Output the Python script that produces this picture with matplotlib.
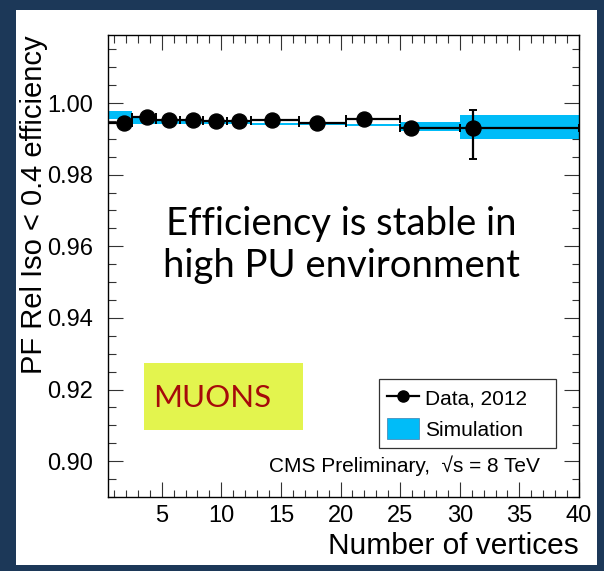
import matplotlib
matplotlib.use("Agg")
import matplotlib.pyplot as plt
from matplotlib.patches import Rectangle, Patch
from matplotlib.lines import Line2D
from matplotlib.ticker import MultipleLocator, FormatStrFormatter
import numpy as np

plt.rcParams['font.family'] = ['Liberation Sans', 'DejaVu Sans']

# binning in number of vertices
bin_edges = [0.5, 2.5, 4.5, 6.5, 8.5, 10.5, 12.5, 16.5, 20.5, 25.0, 30.0, 40.0]

# data 2012: mean nvtx in bin, efficiency and asymmetric errors
data_x = [1.84, 3.79, 5.64, 7.60, 9.53, 11.46, 14.25, 18.04, 21.96, 25.92, 31.07]
data_eff = [0.99454, 0.99610, 0.99518, 0.99518, 0.99490, 0.99490,
            0.99538, 0.99435, 0.99554, 0.99304, 0.99304]
data_err_lo = [0.0004, 0.0003, 0.0003, 0.0003, 0.0003, 0.0003,
               0.0003, 0.0004, 0.0004, 0.0006, 0.0087]
data_err_hi = [0.0004, 0.0003, 0.0003, 0.0003, 0.0003, 0.0003,
               0.0003, 0.0004, 0.0004, 0.0006, 0.0049]

# simulation: efficiency and error band half-width per bin
sim_eff = [0.99671, 0.99494, 0.99462, 0.99462, 0.99462, 0.99462,
           0.99415, 0.99430, 0.99390, 0.99337, 0.99322]
sim_err = [0.00106, 0.00087, 0.00040, 0.00040, 0.00040, 0.00040,
           0.00030, 0.00050, 0.00030, 0.00125, 0.00335]

navy = '#1c3858'
blue = '#00bcf8'

fig = plt.figure(figsize=(6.04, 5.71), dpi=100)
fig.patch.set_facecolor(navy)
W, H = 604.0, 571.0
fig.patches.append(Rectangle((16 / W, 1 - 565 / H), 581 / W, 555 / H,
                             transform=fig.transFigure, facecolor='white',
                             edgecolor='none', zorder=-5))

ax = fig.add_axes([108 / W, 1 - 497 / H, 471 / W, 462 / H])
ax.set_zorder(1)
ax.set_facecolor('white')

edges = np.array(bin_edges)
lo, hi = edges[:-1], edges[1:]
sim_eff = np.array(sim_eff)
sim_err = np.array(sim_err)
ax.bar(lo, 2 * sim_err, width=hi - lo, bottom=sim_eff - sim_err, align='edge',
       color=blue, linewidth=0, zorder=2)

x = np.array(data_x)
ax.errorbar(x, data_eff, xerr=[x - lo, hi - x], yerr=[data_err_lo, data_err_hi],
            fmt='o', color='black', ms=10.8, elinewidth=1.6, capsize=3,
            capthick=1.4, zorder=3)

ax.set_xlim(0.5, 40)
ax.set_ylim(0.89, 1.019)
ax.xaxis.set_major_locator(MultipleLocator(5))
ax.xaxis.set_minor_locator(MultipleLocator(1))
ax.yaxis.set_major_locator(MultipleLocator(0.02))
ax.yaxis.set_minor_locator(MultipleLocator(0.005))
ax.yaxis.set_major_formatter(FormatStrFormatter('%.2f'))
ax.tick_params(which='both', direction='in', top=True, right=True,
               color='#333333', width=0.8, labelsize=17)
ax.tick_params(which='major', length=10.8)
ax.tick_params(which='minor', length=5.4)
ax.tick_params(axis='y', pad=11)
ax.tick_params(axis='x', pad=6)
for s in ax.spines.values():
    s.set_linewidth(1.0)

ax.set_ylabel('PF Rel Iso < 0.4 efficiency', fontsize=21, loc='top', labelpad=-1)
ax.set_xlabel('Number of vertices', fontsize=21.5, loc='right', labelpad=3)

handles = [Line2D([], [], color='black', marker='o', ms=8, lw=1.6),
           Patch(facecolor=blue, edgecolor='#3a7fb0', linewidth=0.5)]
leg = ax.legend(handles, ['Data, 2012', 'Simulation'], loc='upper left',
                bbox_to_anchor=(379 / W, 1 - 447 / H, 177 / W, 68 / H),
                bbox_transform=fig.transFigure, mode='expand', fontsize=15,
                frameon=True, fancybox=False, borderpad=0.4, labelspacing=0.45,
                handlelength=1.5, handleheight=1.15, handletextpad=0.3,
                borderaxespad=0)
leg.get_frame().set_edgecolor('black')
leg.get_frame().set_linewidth(0.9)

ax.text(404 / W, 1 - 466 / H, 'CMS Preliminary,  \u221as = 8 TeV',
        transform=fig.transFigure, fontsize=15, ha='center', va='center')

ax.text(341 / W, 1 - 245 / H, 'Efficiency is stable in\nhigh PU environment',
        transform=fig.transFigure, fontsize=27.5,
        family=['Lato', 'DejaVu Sans'], ha='center', va='center',
        linespacing=1.2)

fig.patches.append(Rectangle((144 / W, 1 - 430 / H), 159 / W, 67 / H,
                             transform=fig.transFigure, facecolor='#e3f44e',
                             edgecolor='none', zorder=5))
fig.text(212 / W, 1 - 398 / H, 'MUONS', fontsize=22.5, color='#a60a0a',
         family=['Lato', 'DejaVu Sans'], ha='center', va='center', zorder=6)

fig.savefig('out.png', dpi=100, facecolor=fig.get_facecolor())
